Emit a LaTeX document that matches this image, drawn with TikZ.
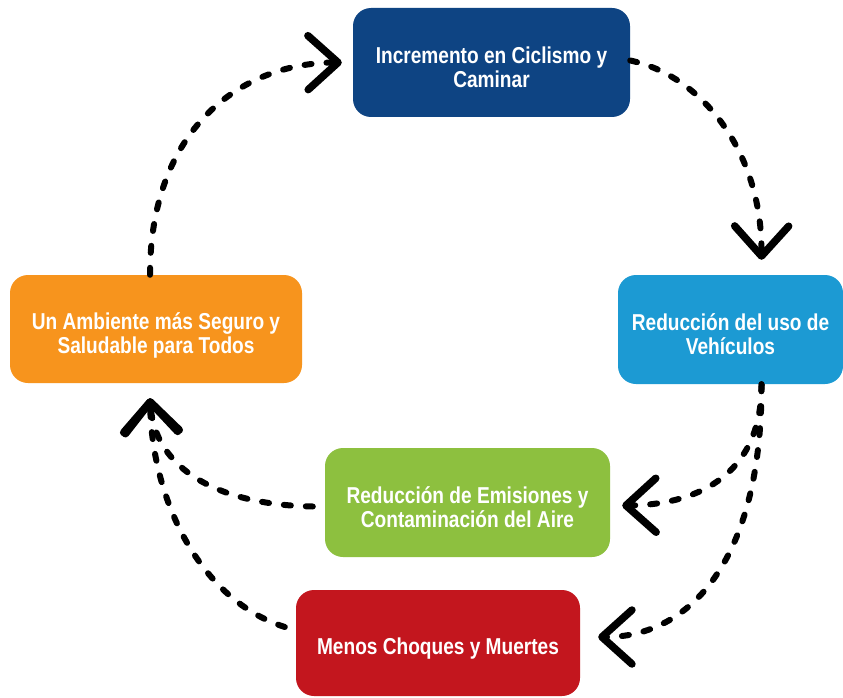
\documentclass[tikz,border=0pt]{standalone}
\usepackage{fontspec}
\setmainfont{Liberation Sans}[FakeStretch=0.83]
\usetikzlibrary{arrows.meta}
\definecolor{cdblue}{HTML}{0E4483}
\definecolor{clblue}{HTML}{1C9AD3}
\definecolor{corange}{HTML}{F7941D}
\definecolor{cgreen}{HTML}{8DC03F}
\definecolor{cred}{HTML}{C3161E}
\newcommand{\boxtext}[1]{\raisebox{-8pt}[\height][\depth]{\begin{tabular}{@{}c@{}}#1\end{tabular}}}
\tikzset{
  boxnode/.style={rounded corners=18pt, inner sep=0pt, text=white,
    font=\fontsize{23}{24}\selectfont\bfseries},
  flow/.style={line width=6pt, dash pattern=on 7pt off 15pt, line cap=round,
    -{Straight Barb[length=30pt,width=54pt,line width=7.5pt,round]}}
}
\begin{document}
\begin{tikzpicture}[x=1pt,y=-1pt]
\useasboundingbox (0,0) rectangle (843,698);
\fill[white] (0,0) rectangle (843,698);
\node[boxnode, fill=cdblue, minimum width=277pt, minimum height=109pt] (top) at (491.5,62.5)
  {\boxtext{Incremento en Ciclismo y\\Caminar}};
\node[boxnode, fill=clblue, minimum width=225pt, minimum height=109pt] (right) at (730.5,329.5)
  {\boxtext{Reducción del uso de\\Vehículos}};
\node[boxnode, fill=corange, minimum width=292pt, minimum height=108pt] (left) at (156,329)
  {\boxtext{Un Ambiente más Seguro y\\Saludable para Todos}};
\node[boxnode, fill=cgreen, minimum width=285pt, minimum height=109pt] (green) at (467.5,502.5)
  {\boxtext{Reducción de Emisiones y\\Contaminación del Aire}};
\node[boxnode, fill=cred, minimum width=284pt, minimum height=106pt] (red) at (438,643)
  {\raisebox{-6pt}[\height][\depth]{Menos Choques y Muertes}};

\draw[flow] ([xshift=-6pt]left.north) .. controls (150,130) and (240,63) .. ([xshift=-11pt]top.west);
\draw[flow] ([yshift=2pt]top.east) .. controls (700,75) and (762,150) .. ([xshift=31pt,yshift=15pt]right.north);
\draw[flow] ([xshift=31pt]right.south) .. controls (762,480) and (690,505) .. ([xshift=12pt,yshift=-3pt]green.east);
\draw[flow] ([xshift=31pt]right.south) .. controls (762,560) and (690,637) .. ([xshift=18pt,yshift=6pt]red.east);
\draw[flow] ([xshift=-12pt,yshift=-4pt]green.west) .. controls (220,505) and (155,470) .. ([xshift=-6pt,yshift=-15pt]left.south);
\draw[flow] ([xshift=-11pt,yshift=16pt]red.west) .. controls (200,600) and (152,500) .. ([xshift=-6pt,yshift=-15pt]left.south);
\end{tikzpicture}
\end{document}
